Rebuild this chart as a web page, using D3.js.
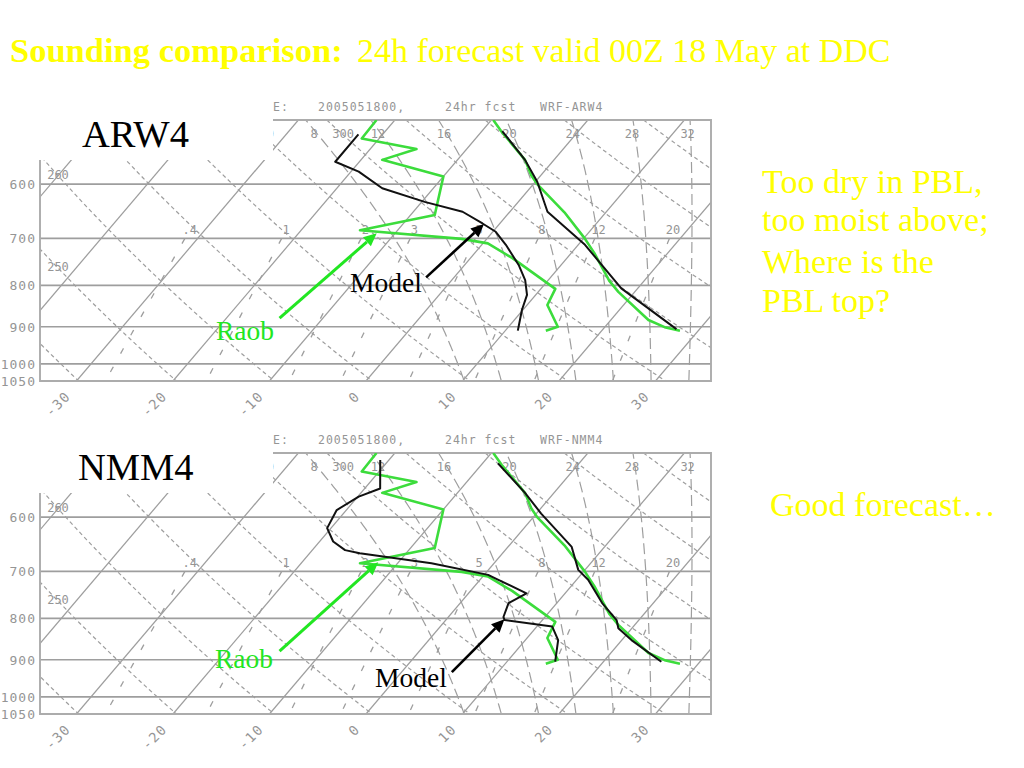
<!DOCTYPE html>
<html><head><meta charset="utf-8">
<script src="https://cdn.jsdelivr.net/npm/d3@7"></script>
<style>body{margin:0;background:#fff}svg{display:block}</style>
</head><body><svg id="c" width="1024" height="768"></svg>
<script>
// ---------------- data ----------------
// Observed sounding (Raob), same in both panels
const raobTP  = [500, 517, 560, 585, 600, 650, 700, 730, 790, 815, 883, 901, 910];
const raobT   = [-9.8, -7.9, -3.0, -1.0, 0.4, 5.7, 10.1, 12.4, 16.4, 18.3, 23.9, 26.2, 28.1];
const raobTdP = [500, 527, 543, 560, 587, 655, 684, 701, 710, 740, 808, 846, 900, 910];
const raobTd  = [-21.9, -21.8, -15.2, -17.8, -10.0, -7.5, -13.9, -2.6, 0.5, 4.3, 11.5, 12.1, 15.1, 14.2];
// WRF-ARW4 forecast
const arwTP  = [516, 560, 596, 649, 713, 807, 906];
const arwT   = [-7.9, -3.0, 0.2, 3.9, 10.7, 18.3, 27.6];
const arwTdP = [521, 563, 579, 607, 631, 649, 671, 687, 713, 755, 788, 822, 858, 910];
const arwTd  = [-22.5, -22.5, -19.2, -15.3, -9.7, -4.9, -1.8, 0.3, 2.5, 5.6, 7.6, 9.1, 9.9, 11.3];
// WRF-NMM4 forecast
const nmmTP  = [515, 560, 594, 653, 697, 717, 766, 804, 823, 851, 905];
const nmmT   = [-8.4, -3.0, 0.5, 6.6, 9.3, 11.2, 14.7, 17.7, 18.6, 21.0, 26.0];
const nmmTdP = [510, 553, 566, 588, 619, 643, 659, 665, 684, 707, 717, 745, 766, 797, 804, 819, 851, 905];
const nmmTd  = [-20.9, -18.4, -19.9, -21.0, -20.4, -18.6, -16.6, -14.8, -6.5, 0.4, 1.9, 6.0, 5.0, 5.7, 6.1, 11.6, 13.4, 15.0];
// background diagram
const pressureTicks = [600, 700, 800, 900, 1000, 1050];
const tempTicks = [-30, -20, -10, 0, 10, 20, 30];
const isotherms = d3.range(-80, 50, 10);
const dryThetas = d3.range(230, 360, 10);          // K
const dryLabelled = [250, 260, 290, 300];
const moistThetaW = [8, 12, 16, 20, 24, 28, 32];   // deg C
const mixRatios = [0.4, 1, 2, 3, 5, 8, 12, 20];    // g/kg
const mixLabels = [".4", "1", "2", "3", "5", "8", "12", "20"];

// ---------------- physics ----------------
const Rd = 287.04, cpd = 1005.7, Lv = 2.501e6, eps = 0.622;
const es = Tc => 6.112 * Math.exp(17.67 * Tc / (Tc + 243.5));
function dTdp(p, TK) {
  const e = es(TK - 273.15), rs = eps * e / (p - e);
  return ((Rd * TK + Lv * rs) / p) / (cpd + (Lv * Lv * rs * eps) / (Rd * TK * TK));
}
function moist(thw) {
  const step = (p0, dp, pEnd) => {
    const out = []; let T = thw + 273.15, p = p0;
    while ((dp < 0 && p > pEnd) || (dp > 0 && p < pEnd)) {
      const k1 = dTdp(p, T), k2 = dTdp(p + dp / 2, T + k1 * dp / 2);
      T += k2 * dp; p += dp; out.push([p, T - 273.15]);
    }
    return out;
  };
  return step(1000, 5, 1050).reverse().concat([[1000, thw]], step(1000, -5, 500));
}
const dryT = (th, p) => th * Math.pow(p / 1000, 0.2857) - 273.15;
function mixTd(w, p) { const e = (w / 1000) * p / (eps + w / 1000); const g = Math.log(e / 6.112); return 243.5 * g / (17.67 - g); }

// ---------------- drawing ----------------
const svg = d3.select('#c');
svg.append('rect').attr('width', 1024).attr('height', 768).attr('fill', '#fff');
const GRID = '#9e9e9e', LBL = '#959595', GREEN = '#3cdc3c', AGREEN = '#22e622';
const MONO = 'DejaVu Sans Mono, monospace', SERIF = 'Liberation Serif, Times New Roman, serif';
const SKEW = 0.85, LEFT = 40, RIGHT = 711, BOXX = 273;

function arrow(g, x1, y1, x2, y2, color, w) {
  const a = Math.atan2(y2 - y1, x2 - x1), L = 13, Wd = 6;
  const bx = x2 - L * Math.cos(a), by = y2 - L * Math.sin(a);
  g.append('line').attr('x1', x1).attr('y1', y1).attr('x2', bx).attr('y2', by)
    .attr('stroke', color).attr('stroke-width', w);
  g.append('path').attr('d', `M${x2},${y2}L${bx - Wd * Math.sin(a)},${by + Wd * Math.cos(a)}L${bx + Wd * Math.sin(a)},${by - Wd * Math.cos(a)}Z`)
    .attr('fill', color);
}

function panel(cfg, idx) {
  const off = cfg.off;
  const g = svg.append('g');
  const y = d3.scaleLog().domain([500, 1050]).range([120 + off, 381 + off]);
  const x = d3.scaleLinear().domain([-30, 30]).range([76.5, 655.5]);
  const yB = y(1050), yT = y(500), yBox = 160 + off;
  const X = (T, p) => x(T) + SKEW * (yB - y(p));
  const line = d3.line().x(d => X(d[1], d[0])).y(d => y(d[0]));
  const id = 'clip' + idx;
  g.append('clipPath').attr('id', id).append('polygon')
    .attr('points', [[BOXX, yT], [RIGHT, yT], [RIGHT, yB], [LEFT, yB], [LEFT, yBox], [BOXX, yBox]].map(d => d.join(',')).join(' '));
  const gc = g.append('g').attr('clip-path', `url(#${id})`);
  const ps = d3.range(500, 1050, 10).concat([1050]);

  // isotherms
  gc.selectAll('.iso').data(isotherms).join('line')
    .attr('x1', T => X(T, 1050)).attr('y1', yB).attr('x2', T => X(T, 500)).attr('y2', yT)
    .attr('stroke', GRID).attr('stroke-width', 1.25);
  // dry adiabats
  gc.selectAll('.dry').data(dryThetas).join('path')
    .attr('d', th => line(ps.map(p => [p, dryT(th, p)])))
    .attr('fill', 'none').attr('stroke', GRID).attr('stroke-width', 1.2).attr('stroke-dasharray', '4,3');
  // moist adiabats
  const moistCurves = moistThetaW.map(moist);
  gc.selectAll('.moist').data(moistCurves).join('path')
    .attr('d', line).attr('fill', 'none').attr('stroke', GRID).attr('stroke-width', 1.2).attr('stroke-dasharray', '11,5');
  // mixing ratio lines
  const pm = d3.range(700, 1050, 10).concat([1050]);
  gc.selectAll('.mix').data(mixRatios).join('path')
    .attr('d', w => line(pm.map(p => [p, mixTd(w, p)])))
    .attr('fill', 'none').attr('stroke', GRID).attr('stroke-width', 1.3).attr('stroke-dasharray', '6,15');

  // labels inside the diagram
  const pLab = y.invert(yT + 15);
  moistCurves.forEach((c, i) => {
    const pt = c.reduce((a, b) => Math.abs(b[0] - pLab) < Math.abs(a[0] - pLab) ? b : a);
    gc.append('text').attr('x', X(pt[1], pt[0]) - 3).attr('y', y(pt[0]) + 4)
      .attr('text-anchor', 'middle').attr('font-family', MONO).attr('font-size', 12).attr('fill', LBL).text(moistThetaW[i]);
  });
  dryLabelled.forEach(th => {
    let lx, ly;
    if (X(dryT(th, 500), 500) > LEFT + 18) {
      const p = y.invert(yT + 15); lx = X(dryT(th, p), p); ly = yT + 15;
    } else {
      let lo = 500, hi = 1050;
      for (let k = 0; k < 40; k++) { const m = (lo + hi) / 2; if (X(dryT(th, m), m) < LEFT + 18) lo = m; else hi = m; }
      lx = LEFT + 18; ly = y(lo);
    }
    gc.append('text').attr('x', lx).attr('y', ly + 3).attr('text-anchor', 'middle')
      .attr('font-family', MONO).attr('font-size', 12).attr('fill', LBL).text(th);
  });
  const pMix = y.invert(yT + 110);
  mixRatios.forEach((w, i) => {
    gc.append('text').attr('x', X(mixTd(w, pMix), pMix)).attr('y', yT + 114).attr('text-anchor', 'middle')
      .attr('font-family', MONO).attr('font-size', 12).attr('fill', LBL).text(mixLabels[i]);
  });

  // isobars + frame
  g.selectAll('.isob').data(pressureTicks.slice(0, 5)).join('line')
    .attr('x1', LEFT).attr('x2', RIGHT).attr('y1', p => y(p)).attr('y2', p => y(p))
    .attr('stroke', GRID).attr('stroke-width', 1.7);
  const fr = `M${BOXX},${yT}H${RIGHT}V${yB}H${LEFT}V${yBox}`;
  g.append('path').attr('d', fr).attr('fill', 'none').attr('stroke', '#acacac').attr('stroke-width', 1.9);

  // axis labels
  g.selectAll('.pl').data(pressureTicks).join('text')
    .attr('x', 36).attr('y', p => y(p) + 5).attr('text-anchor', 'end')
    .attr('font-family', MONO).attr('font-size', 13).attr('letter-spacing', 1).attr('fill', LBL).text(p => p);
  g.selectAll('.tl').data(tempTicks).join('text')
    .attr('transform', T => `translate(${x(T) - 5},${yB + 16}) rotate(-45)`)
    .attr('text-anchor', 'end').attr('font-family', MONO).attr('font-size', 13.5).attr('letter-spacing', 1.5)
    .attr('fill', LBL).text(T => T);

  // header
  const hy = off + 111;
  [['E:', 273], ['2005051800,', 318], ['24hr fcst', 445], [cfg.header, 540]].forEach(([t, hx]) => {
    g.append('text').attr('x', hx).attr('y', hy).attr('font-family', MONO).attr('font-size', 11.5)
      .attr('letter-spacing', 1).attr('fill', LBL).text(t);
  });

  // profiles
  const prof = (P, V) => P.map((p, i) => [p, V[i]]);
  const gp = g.append('g').attr('clip-path', `url(#${id})`);
  [[raobTP, raobT], [raobTdP, raobTd]].forEach(([P, V]) => gp.append('path').attr('d', line(prof(P, V)))
    .attr('fill', 'none').attr('stroke', GREEN).attr('stroke-width', 2.6).attr('stroke-linejoin', 'round'));
  [[cfg.tp, cfg.t], [cfg.tdp, cfg.td]].forEach(([P, V]) => gp.append('path').attr('d', line(prof(P, V)))
    .attr('fill', 'none').attr('stroke', '#111').attr('stroke-width', 2).attr('stroke-linejoin', 'round'));

  // annotations
  const a = cfg.ann;
  arrow(g, X(a.raob[0][0], a.raob[0][1]), y(a.raob[0][1]), X(a.raob[1][0], a.raob[1][1]), y(a.raob[1][1]), AGREEN, 3);
  arrow(g, X(a.model[0][0], a.model[0][1]), y(a.model[0][1]), X(a.model[1][0], a.model[1][1]), y(a.model[1][1]), '#000', 2.6);
  g.append('text').attr('x', a.raobText[0]).attr('y', off + a.raobText[1]).attr('font-family', SERIF).attr('font-size', 27.5)
    .attr('fill', AGREEN).text('Raob');
  g.append('text').attr('x', a.modelText[0]).attr('y', off + a.modelText[1]).attr('font-family', SERIF).attr('font-size', 27.5)
    .attr('fill', '#000').text('Model');
  g.append('text').attr('x', cfg.nameX).attr('y', off + 146.5).attr('font-family', SERIF).attr('font-size', 38.5)
    .attr('fill', '#000').text(cfg.name);
}

panel({off: 0, name: 'ARW4', nameX: 82, header: 'WRF-ARW4', tp: arwTP, t: arwT, tdp: arwTdP, td: arwTd,
  ann: {raob: [[-14.5, 878], [-11.9, 690]], model: [[-2.9, 782], [-1.6, 672]], raobText: [216, 340], modelText: [350, 292]}}, 0);
panel({off: 333, name: 'NMM4', nameX: 78, header: 'WRF-NMM4', tp: nmmTP, t: nmmT, tdp: nmmTdP, td: nmmTd,
  ann: {raob: [[-14.5, 878], [-12.1, 682]], model: [[5.2, 932], [6.0, 802]], raobText: [215, 335], modelText: [375, 354]}}, 1);

// titles and comments
const Y = '#ffff00';
svg.append('text').attr('x', 10).attr('y', 62).attr('font-family', SERIF).attr('font-weight', 'bold')
  .attr('font-size', 34.5).attr('fill', Y).text('Sounding comparison:');
svg.append('text').attr('x', 357).attr('y', 62).attr('font-family', SERIF)
  .attr('font-size', 34).attr('fill', Y).text('24h forecast valid 00Z 18 May at DDC');
const notes = ['Too dry in PBL,', 'too moist above;', 'Where is the', 'PBL top?'];
const noteY = [193, 231, 273, 312];
notes.forEach((t, i) => svg.append('text').attr('x', 762).attr('y', noteY[i]).attr('font-family', SERIF)
  .attr('font-size', 34).attr('fill', Y).text(t));
svg.append('text').attr('x', 770).attr('y', 516).attr('font-family', SERIF).attr('font-size', 34).attr('fill', Y).text('Good forecast…');
</script></body></html>
